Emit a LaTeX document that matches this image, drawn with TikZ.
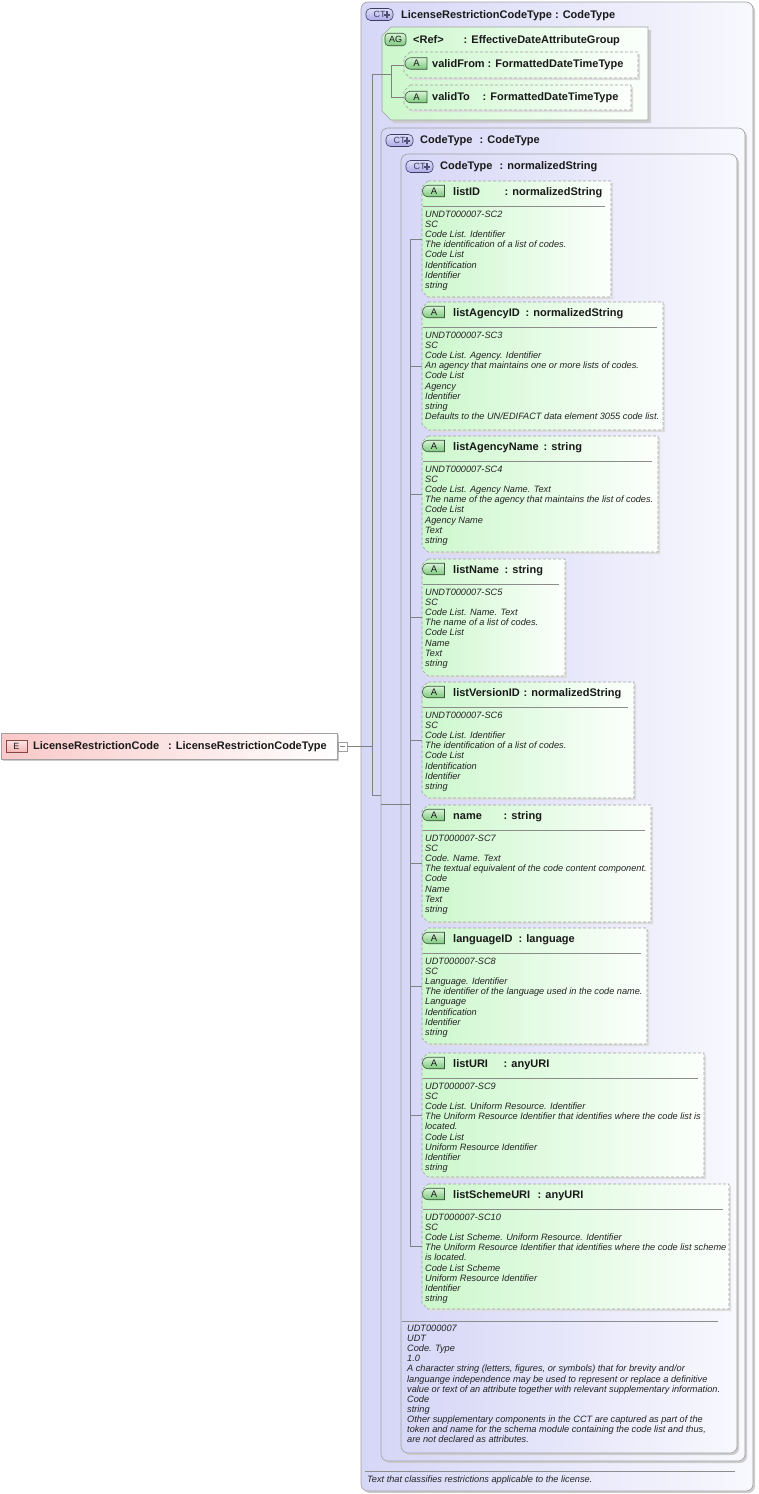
\documentclass[tikz,border=0pt]{standalone}
\usepackage{fontspec}
\setmainfont{Liberation Sans}
\usetikzlibrary{shapes.misc}
\definecolor{ctL}{RGB}{214,214,247}
\definecolor{ctR}{RGB}{248,248,254}
\definecolor{grL}{RGB}{204,247,204}
\definecolor{grR}{RGB}{252,255,252}
\definecolor{pkL}{RGB}{250,200,200}
\definecolor{bordc}{RGB}{160,160,160}
\definecolor{shadc}{RGB}{205,205,205}
\definecolor{ashadc}{RGB}{222,222,222}
\definecolor{connc}{RGB}{128,128,128}
\definecolor{sepc}{RGB}{140,140,140}
\definecolor{txtc}{RGB}{25,25,25}
\definecolor{dtc}{RGB}{35,35,35}
\definecolor{bgT}{RGB}{215,245,215}
\definecolor{bgB}{RGB}{125,200,125}
\definecolor{badgeD}{RGB}{60,80,60}
\definecolor{ctbT}{RGB}{222,222,250}
\definecolor{ctbB}{RGB}{170,170,228}
\definecolor{ctD}{RGB}{60,60,100}
\definecolor{plusc}{RGB}{80,80,115}
\definecolor{ebT}{RGB}{255,228,228}
\definecolor{ebB}{RGB}{242,178,178}
\definecolor{ebD}{RGB}{130,70,70}
\tikzset{
  conn/.style={draw=connc, line width=0.7pt},
  ttl/.style={anchor=base west, inner sep=0pt, font=\fontsize{11}{13}\selectfont\bfseries, text=txtc},
  dtl/.style={anchor=base west, inner sep=0pt, font=\fontsize{9.2}{10.15}\selectfont\itshape, text=dtc},
  sepl/.style={draw=sepc, line width=0.6pt},
  ctbox/.style={draw=bordc, line width=0.6pt, rounded corners=7pt, left color=ctL, right color=ctR},
  ctshadow/.style={fill=shadc, rounded corners=7pt},
  attrline/.style={draw=bordc, line width=0.65pt, dash pattern=on 3pt off 2pt},
  abadge/.style={rounded rectangle, rounded rectangle right arc=none, minimum width=22pt, minimum height=11.5pt, inner sep=0pt, draw=badgeD, line width=0.6pt, top color=bgT, bottom color=bgB, font=\fontsize{9.5}{9.5}\selectfont, text=txtc},
  agbadge/.style={rectangle, rounded corners=3.5pt, minimum width=21pt, minimum height=12.5pt, inner sep=0pt, draw=badgeD, line width=0.6pt, top color=bgT, bottom color=bgB, font=\fontsize{9}{9}\selectfont, text=txtc},
  ctbadge/.style={rectangle, rounded corners=4.5pt, minimum width=27pt, minimum height=12pt, inner sep=0pt, draw=ctD, line width=0.6pt, top color=ctbT, bottom color=ctbB, font=\fontsize{9}{9}\selectfont, text=ctD},
  ebadge/.style={rectangle, minimum width=21pt, minimum height=12pt, inner sep=0pt, draw=ebD, line width=0.6pt, top color=ebT, bottom color=ebB, font=\fontsize{9}{9}\selectfont, text=txtc},
  plusi/.style={draw=plusc, line width=2pt}
}
\newcommand\attrbox[5]{%
  \fill[ashadc] (#2+8,#3+2) -- (#4+2,#3+2) -- (#4+2,#5+2) -- (#2+8,#5+2) -- (#2+2,#5-4) -- (#2+2,#3+8) -- cycle;
  \path[left color=grL, right color=grR] (#2+6,#3) -- (#4,#3) -- (#4,#5) -- (#2+6,#5) -- (#2,#5-6) -- (#2,#3+6) -- cycle;
  \draw[attrline] (#2+6,#3) -- (#4,#3) -- (#4,#5) -- (#2+6,#5) -- (#2,#5-6) -- (#2,#3+6) -- cycle;
  \coordinate (#1) at (#2,{(#3+#5)/2});
}
\newcommand\innerattr[8]{%
  \attrbox{#1}{422}{#2}{#4}{#3}
  \node[abadge] (#1-b) at (434,#2+10) {A};
  \node[ttl] (#1-n) at (453,#2+14.4) {#5};
  \node[ttl] (#1-t) at (#6-0.5,#2+14.4) {: #7};
  \draw[sepl] (423,#2+25.5) -- (#4-6,#2+25.5);
  \node[dtl] (#1-d) at (425,#2+36.3) {\begin{tabular}[t]{@{}l@{}}#8\end{tabular}};
}
\newcommand\ctbadgeat[3]{%
  \node[ctbadge] (#1) at (#2,#3) {CT\hspace{11pt}};
  \draw[plusi] (#2+7.5-3.2,#3) -- (#2+7.5+3.2,#3) (#2+7.5,#3-3.2) -- (#2+7.5,#3+3.2);
}
\begin{document}
\begin{tikzpicture}[x=1pt,y=-1pt]
\useasboundingbox (0,0) rectangle (758,1494);
% ---------- element ----------
\fill[shadc] (3,735) rectangle (339,761);
\path[draw=bordc, line width=0.6pt, left color=pkL, right color=white] (1,733) rectangle (337,759);
\node[ebadge] (ebadge) at (16.5,746.5) {E};
\node[ttl] (etitle) at (33,749.9) {LicenseRestrictionCode};
\node[ttl] (etype) at (168,749.9) {: LicenseRestrictionCodeType};
\draw[draw=bordc, fill=white, line width=0.6pt] (338,742) rectangle (347,751);
\draw[draw=connc, line width=0.8pt] (340,746.5) -- (345,746.5);
\coordinate (eout) at (347,746);
% ---------- outer complex type ----------
\fill[ctshadow] (363,4) rectangle (755,1493);
\path[ctbox] (361,2) rectangle (753,1491);
\ctbadgeat{ct1}{379.5}{14.5}
\node[ttl] (ct1t) at (401,18.2) {LicenseRestrictionCodeType : CodeType};
\draw[sepl] (365,1471) -- (735,1471);
\node[dtl] (ct1d) at (367,1482.3) {Text that classifies restrictions applicable to the license.};
% ---------- attribute group ----------
\fill[shadc] (394,30) -- (651,30) -- (651,123) -- (394,123) -- (385,114) -- (385,39) -- cycle;
\path[left color=grL, right color=grR] (391,27) -- (648,27) -- (648,120) -- (391,120) -- (382,111) -- (382,36) -- cycle;
\draw[draw=bordc, line width=0.6pt] (391,27) -- (648,27) -- (648,120) -- (391,120) -- (382,111) -- (382,36) -- cycle;
\node[agbadge] (agb) at (395.5,39.5) {AG};
\node[ttl] (agref) at (413,43.2) {<Ref>};
\node[ttl] (agtype) at (463.5,43.2) {: EffectiveDateAttributeGroup};
\coordinate (agin) at (382,74);
\attrbox{vfrom}{404}{52}{638}{78}
\node[abadge] (vfromb) at (416.5,63.5) {A};
\node[ttl] (vfromn) at (432,67.2) {validFrom};
\node[ttl] (vfromt) at (487.5,67.2) {: FormattedDateTimeType};
\attrbox{vto}{404}{85}{631}{110}
\node[abadge] (vtob) at (416.5,97) {A};
\node[ttl] (vton) at (432,100.6) {validTo};
\node[ttl] (vtot) at (482.5,100.6) {: FormattedDateTimeType};
% ---------- CodeType : CodeType ----------
\fill[ctshadow] (383,130) rectangle (747,1463);
\path[ctbox] (381,128) rectangle (745,1461);
\ctbadgeat{ct2}{399.5}{140.5}
\node[ttl] (ct2n) at (420,143.9) {CodeType};
\node[ttl] (ct2t) at (479.5,143.9) {: CodeType};
% ---------- CodeType : normalizedString ----------
\fill[ctshadow] (403,156) rectangle (739,1455);
\path[ctbox] (401,154) rectangle (737,1453);
\ctbadgeat{ct3}{419.5}{166.5}
\node[ttl] (ct3n) at (440,169.9) {CodeType};
\node[ttl] (ct3t) at (499.5,169.9) {: normalizedString};
\draw[sepl] (402,1321) -- (718,1321);
\node[dtl] (ct3d) at (407,1331.3) {\begin{tabular}[t]{@{}l@{}}UDT000007\\UDT\\Code. Type\\1.0\\A character string (letters, figures, or symbols) that for brevity and/or\\languange independence may be used to represent or replace a definitive\\value or text of an attribute together with relevant supplementary information.\\Code\\string\\Other supplementary components in the CCT are captured as part of the\\token and name for the schema module containing the code list and thus,\\are not declared as attributes.\end{tabular}};
% ---------- connector skeleton ----------
\coordinate (m1) at (372,74);
\coordinate (m2) at (372,746);
\coordinate (m3) at (372,795);
\coordinate (c2in) at (381,795);
\coordinate (c2out) at (381,804);
\coordinate (agv1) at (391,65);
\coordinate (agv2) at (391,97.5);
\coordinate (agj) at (391,74);
\coordinate (nsj) at (410,804);
\coordinate (nsv1) at (410,239);
\coordinate (nsv2) at (410,1246.5);
\draw[conn] (eout) -- (m2);
\draw[conn] (m1) -- (m3) -- (c2in);
\draw[conn] (m1) -- (agj);
\draw[conn] (agv1) -- (agv2);
\draw[conn] (agv1) -- (vfrom);
\draw[conn] (agv2) -- (vto);
\draw[conn] (c2out) -- (nsj);
\draw[conn] (nsv1) -- (nsv2);
% ---------- attributes ----------
\innerattr{listID}{181}{297}{611}{listID}{505}{normalizedString}{UNDT000007-SC2\\SC\\Code List. Identifier\\The identification of a list of codes.\\Code List\\Identification\\Identifier\\string}
\innerattr{listAgencyID}{302}{430}{663}{listAgencyID}{526}{normalizedString}{UNDT000007-SC3\\SC\\Code List. Agency. Identifier\\An agency that maintains one or more lists of codes.\\Code List\\Agency\\Identifier\\string\\Defaults to the UN/EDIFACT data element 3055 code list.}
\innerattr{listAgencyName}{436}{552}{658}{listAgencyName}{544}{string}{UNDT000007-SC4\\SC\\Code List. Agency Name. Text\\The name of the agency that maintains the list of codes.\\Code List\\Agency Name\\Text\\string}
\innerattr{listName}{559}{676}{565}{listName}{505}{string}{UNDT000007-SC5\\SC\\Code List. Name. Text\\The name of a list of codes.\\Code List\\Name\\Text\\string}
\innerattr{listVersionID}{682}{798}{634}{listVersionID}{524}{normalizedString}{UNDT000007-SC6\\SC\\Code List. Identifier\\The identification of a list of codes.\\Code List\\Identification\\Identifier\\string}
\innerattr{name}{805}{922}{651}{name}{504}{string}{UDT000007-SC7\\SC\\Code. Name. Text\\The textual equivalent of the code content component.\\Code\\Name\\Text\\string}
\innerattr{languageID}{928}{1044}{647}{languageID}{519}{language}{UDT000007-SC8\\SC\\Language. Identifier\\The identifier of the language used in the code name.\\Language\\Identification\\Identifier\\string}
\innerattr{listURI}{1053}{1177}{704}{listURI}{504}{anyURI}{UDT000007-SC9\\SC\\Code List. Uniform Resource. Identifier\\The Uniform Resource Identifier that identifies where the code list is\\located.\\Code List\\Uniform Resource Identifier\\Identifier\\string}
\innerattr{listSchemeURI}{1184}{1309}{729}{listSchemeURI}{538}{anyURI}{UDT000007-SC10\\SC\\Code List Scheme. Uniform Resource. Identifier\\The Uniform Resource Identifier that identifies where the code list scheme\\is located.\\Code List Scheme\\Uniform Resource Identifier\\Identifier\\string}
\foreach \a/\y in {listID/239,listAgencyID/366,listAgencyName/494,listName/617.5,listVersionID/740,name/863.5,languageID/986,listURI/1115,listSchemeURI/1246.5}
  \draw[conn] (410,\y) -- (\a);
\end{tikzpicture}
\end{document}
